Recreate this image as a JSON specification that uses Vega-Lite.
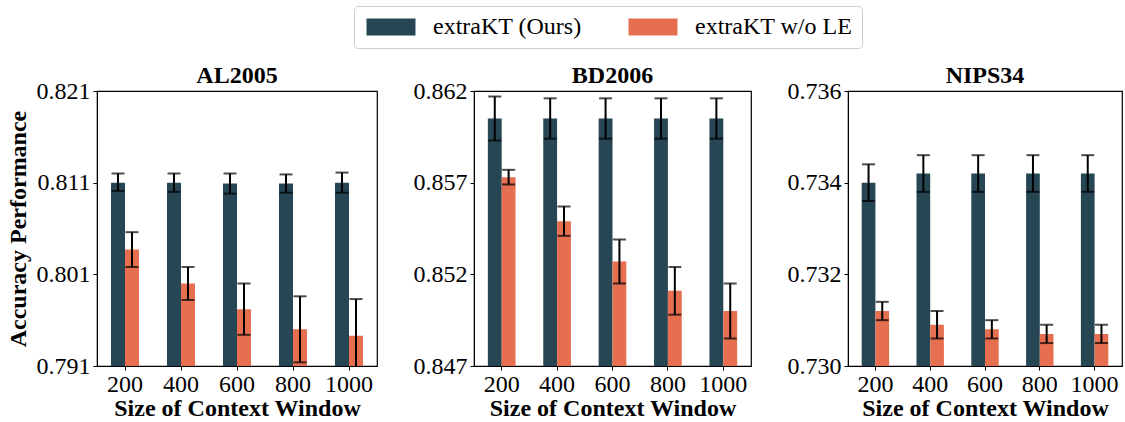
{
  "$schema": "https://vega.github.io/schema/vega-lite/v6.json",
  "padding": {"left": 5, "top": 5, "right": 0, "bottom": 0},
  "background": "white",
  "data": {"values": [
    {"dataset": "AL2005", "size": 200, "series": "extraKT (Ours)", "acc": 0.8110, "lo": 0.8101, "hi": 0.8120},
    {"dataset": "AL2005", "size": 400, "series": "extraKT (Ours)", "acc": 0.8110, "lo": 0.8100, "hi": 0.8120},
    {"dataset": "AL2005", "size": 600, "series": "extraKT (Ours)", "acc": 0.8109, "lo": 0.8098, "hi": 0.8120},
    {"dataset": "AL2005", "size": 800, "series": "extraKT (Ours)", "acc": 0.8109, "lo": 0.8099, "hi": 0.8119},
    {"dataset": "AL2005", "size": 1000, "series": "extraKT (Ours)", "acc": 0.8110, "lo": 0.8099, "hi": 0.8121},
    {"dataset": "AL2005", "size": 200, "series": "extraKT w/o LE", "acc": 0.8037, "lo": 0.8018, "hi": 0.8056},
    {"dataset": "AL2005", "size": 400, "series": "extraKT w/o LE", "acc": 0.8000, "lo": 0.7982, "hi": 0.8018},
    {"dataset": "AL2005", "size": 600, "series": "extraKT w/o LE", "acc": 0.7972, "lo": 0.7944, "hi": 0.8000},
    {"dataset": "AL2005", "size": 800, "series": "extraKT w/o LE", "acc": 0.7950, "lo": 0.7914, "hi": 0.7986},
    {"dataset": "AL2005", "size": 1000, "series": "extraKT w/o LE", "acc": 0.7943, "lo": 0.7903, "hi": 0.7983},
    {"dataset": "BD2006", "size": 200, "series": "extraKT (Ours)", "acc": 0.8605, "lo": 0.8593, "hi": 0.8617},
    {"dataset": "BD2006", "size": 400, "series": "extraKT (Ours)", "acc": 0.8605, "lo": 0.8594, "hi": 0.8616},
    {"dataset": "BD2006", "size": 600, "series": "extraKT (Ours)", "acc": 0.8605, "lo": 0.8594, "hi": 0.8616},
    {"dataset": "BD2006", "size": 800, "series": "extraKT (Ours)", "acc": 0.8605, "lo": 0.8594, "hi": 0.8616},
    {"dataset": "BD2006", "size": 1000, "series": "extraKT (Ours)", "acc": 0.8605, "lo": 0.8594, "hi": 0.8616},
    {"dataset": "BD2006", "size": 200, "series": "extraKT w/o LE", "acc": 0.8573, "lo": 0.8569, "hi": 0.8577},
    {"dataset": "BD2006", "size": 400, "series": "extraKT w/o LE", "acc": 0.8549, "lo": 0.8541, "hi": 0.8557},
    {"dataset": "BD2006", "size": 600, "series": "extraKT w/o LE", "acc": 0.8527, "lo": 0.8515, "hi": 0.8539},
    {"dataset": "BD2006", "size": 800, "series": "extraKT w/o LE", "acc": 0.8511, "lo": 0.8498, "hi": 0.8524},
    {"dataset": "BD2006", "size": 1000, "series": "extraKT w/o LE", "acc": 0.8500, "lo": 0.8485, "hi": 0.8515},
    {"dataset": "NIPS34", "size": 200, "series": "extraKT (Ours)", "acc": 0.7340, "lo": 0.7336, "hi": 0.7344},
    {"dataset": "NIPS34", "size": 400, "series": "extraKT (Ours)", "acc": 0.7342, "lo": 0.7338, "hi": 0.7346},
    {"dataset": "NIPS34", "size": 600, "series": "extraKT (Ours)", "acc": 0.7342, "lo": 0.7338, "hi": 0.7346},
    {"dataset": "NIPS34", "size": 800, "series": "extraKT (Ours)", "acc": 0.7342, "lo": 0.7338, "hi": 0.7346},
    {"dataset": "NIPS34", "size": 1000, "series": "extraKT (Ours)", "acc": 0.7342, "lo": 0.7338, "hi": 0.7346},
    {"dataset": "NIPS34", "size": 200, "series": "extraKT w/o LE", "acc": 0.7312, "lo": 0.7310, "hi": 0.7314},
    {"dataset": "NIPS34", "size": 400, "series": "extraKT w/o LE", "acc": 0.7309, "lo": 0.7306, "hi": 0.7312},
    {"dataset": "NIPS34", "size": 600, "series": "extraKT w/o LE", "acc": 0.7308, "lo": 0.7306, "hi": 0.7310},
    {"dataset": "NIPS34", "size": 800, "series": "extraKT w/o LE", "acc": 0.7307, "lo": 0.7305, "hi": 0.7309},
    {"dataset": "NIPS34", "size": 1000, "series": "extraKT w/o LE", "acc": 0.7307, "lo": 0.7305, "hi": 0.7309}
  ]},
  "spacing": 34,
  "hconcat": [
    {
      "width": 280, "height": 275,
      "title": {"text": "AL2005"},
      "transform": [{"filter": "datum.dataset == 'AL2005'"}],
      "encoding": {
        "x": {"field": "size", "type": "ordinal", "title": "Size of Context Window",
              "scale": {"type": "band", "paddingInner": 0.5, "paddingOuter": 0.25}},
        "xOffset": {"field": "series", "type": "nominal", "scale": {"domain": ["extraKT (Ours)", "extraKT w/o LE"]}}
      },
      "layer": [
        {"mark": {"type": "bar", "clip": true},
         "encoding": {
           "y": {"field": "acc", "type": "quantitative", "title": "Accuracy Performance",
                 "scale": {"domain": [0.791, 0.821], "zero": false, "nice": false},
                 "axis": {"values": [0.791, 0.801, 0.811, 0.821], "format": ".3f"}},
           "color": {"field": "series", "type": "nominal",
                     "scale": {"domain": ["extraKT (Ours)", "extraKT w/o LE"], "range": ["#264653", "#e76f51"]},
                     "legend": {"title": null}}
         }},
        {"mark": {"type": "rule", "clip": true, "color": "black", "strokeWidth": 2},
         "encoding": {"y": {"field": "lo", "type": "quantitative"}, "y2": {"field": "hi"}}},
        {"mark": {"type": "tick", "clip": true, "color": "black", "thickness": 2, "size": 13},
         "encoding": {"y": {"field": "lo", "type": "quantitative"}}},
        {"mark": {"type": "tick", "clip": true, "color": "black", "thickness": 2, "size": 13},
         "encoding": {"y": {"field": "hi", "type": "quantitative"}}}
      ]
    },
    {
      "width": 277, "height": 275,
      "title": {"text": "BD2006"},
      "transform": [{"filter": "datum.dataset == 'BD2006'"}],
      "encoding": {
        "x": {"field": "size", "type": "ordinal", "title": "Size of Context Window",
              "scale": {"type": "band", "paddingInner": 0.5, "paddingOuter": 0.25}},
        "xOffset": {"field": "series", "type": "nominal", "scale": {"domain": ["extraKT (Ours)", "extraKT w/o LE"]}}
      },
      "layer": [
        {"mark": {"type": "bar", "clip": true},
         "encoding": {
           "y": {"field": "acc", "type": "quantitative", "title": null,
                 "scale": {"domain": [0.847, 0.862], "zero": false, "nice": false},
                 "axis": {"values": [0.847, 0.852, 0.857, 0.862], "format": ".3f"}},
           "color": {"field": "series", "type": "nominal",
                     "scale": {"domain": ["extraKT (Ours)", "extraKT w/o LE"], "range": ["#264653", "#e76f51"]},
                     "legend": {"title": null}}
         }},
        {"mark": {"type": "rule", "clip": true, "color": "black", "strokeWidth": 2},
         "encoding": {"y": {"field": "lo", "type": "quantitative"}, "y2": {"field": "hi"}}},
        {"mark": {"type": "tick", "clip": true, "color": "black", "thickness": 2, "size": 13},
         "encoding": {"y": {"field": "lo", "type": "quantitative"}}},
        {"mark": {"type": "tick", "clip": true, "color": "black", "thickness": 2, "size": 13},
         "encoding": {"y": {"field": "hi", "type": "quantitative"}}}
      ]
    },
    {
      "width": 274, "height": 275,
      "title": {"text": "NIPS34"},
      "transform": [{"filter": "datum.dataset == 'NIPS34'"}],
      "encoding": {
        "x": {"field": "size", "type": "ordinal", "title": "Size of Context Window",
              "scale": {"type": "band", "paddingInner": 0.5, "paddingOuter": 0.25}},
        "xOffset": {"field": "series", "type": "nominal", "scale": {"domain": ["extraKT (Ours)", "extraKT w/o LE"]}}
      },
      "layer": [
        {"mark": {"type": "bar", "clip": true},
         "encoding": {
           "y": {"field": "acc", "type": "quantitative", "title": null,
                 "scale": {"domain": [0.730, 0.736], "zero": false, "nice": false},
                 "axis": {"values": [0.730, 0.732, 0.734, 0.736], "format": ".3f"}},
           "color": {"field": "series", "type": "nominal",
                     "scale": {"domain": ["extraKT (Ours)", "extraKT w/o LE"], "range": ["#264653", "#e76f51"]},
                     "legend": {"title": null}}
         }},
        {"mark": {"type": "rule", "clip": true, "color": "black", "strokeWidth": 2},
         "encoding": {"y": {"field": "lo", "type": "quantitative"}, "y2": {"field": "hi"}}},
        {"mark": {"type": "tick", "clip": true, "color": "black", "thickness": 2, "size": 13},
         "encoding": {"y": {"field": "lo", "type": "quantitative"}}},
        {"mark": {"type": "tick", "clip": true, "color": "black", "thickness": 2, "size": 13},
         "encoding": {"y": {"field": "hi", "type": "quantitative"}}}
      ]
    }
  ],
  "resolve": {"scale": {"y": "independent", "x": "independent", "xOffset": "independent"}},
  "config": {
    "font": "Liberation Serif",
    "view": {"stroke": "black", "strokeWidth": 1.2},
    "title": {"font": "Liberation Serif", "fontSize": 24, "fontWeight": "bold", "color": "black", "offset": -9},
    "axis": {
      "labelFont": "Liberation Serif", "labelFontSize": 24, "labelColor": "black",
      "titleFont": "Liberation Serif", "titleFontSize": 24, "titleFontWeight": "bold", "titleColor": "black",
      "domainColor": "black", "tickColor": "black", "tickSize": 4, "labelPadding": 3,
      "grid": false
    },
    "axisX": {"labelAngle": 0, "titlePadding": 0, "labelPadding": 2},
    "axisY": {"titlePadding": 6},
    "legend": {
      "orient": "none", "legendX": 257, "legendY": -85, "direction": "horizontal",
      "labelFont": "Liberation Serif", "labelFontSize": 24, "labelColor": "black",
      "symbolType": "M-2.88,-1L2.88,-1L2.88,1L-2.88,1Z", "symbolSize": 289, "symbolStrokeWidth": 0,
      "symbolOffset": 16, "labelOffset": 30, "columnPadding": 43, "padding": 9,
      "strokeColor": "#cccccc", "cornerRadius": 4, "fillColor": "white"
    }
  }
}
